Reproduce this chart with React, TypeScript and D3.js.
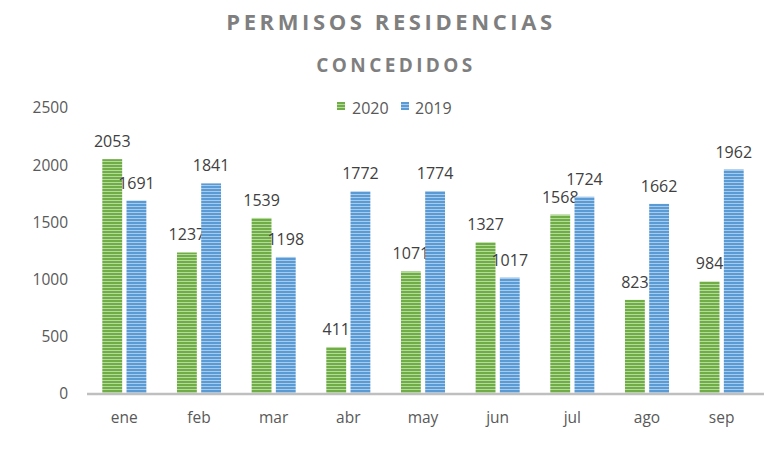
import * as d3 from "d3";

const months = ["ene", "feb", "mar", "abr", "may", "jun", "jul", "ago", "sep"];
const values2020 = [2053, 1237, 1539, 411, 1071, 1327, 1568, 823, 984];
const values2019 = [1691, 1841, 1198, 1772, 1774, 1017, 1724, 1662, 1962];
const yTicks = [0, 500, 1000, 1500, 2000, 2500];

const series = [
  { key: "2020", values: values2020, dark: "#70ad47", light: "#b5db9c", id: "stripeGreen" },
  { key: "2019", values: values2019, dark: "#5b9bd5", light: "#a9cbeb", id: "stripeBlue" },
];

const W = 781;
const H = 449;
const margin = { top: 108, right: 22, bottom: 55, left: 87 };
const font = "'Open Sans', 'Liberation Sans', sans-serif";

export default function App() {
  const innerW = W - margin.left - margin.right;
  const innerH = H - margin.top - margin.bottom;

  const x = d3.scaleBand<string>().domain(months).range([0, innerW]).paddingInner(0.41).paddingOuter(0.205);
  const xs = d3.scaleBand<string>().domain(series.map((s) => s.key)).range([0, x.bandwidth()]).paddingInner(0.18);
  const y = d3.scaleLinear().domain([0, 2500]).range([innerH, 0]);

  return (
    <div style={{ position: "absolute", left: 0, top: 0 }}>
      <svg width={W} height={H} style={{ display: "block", background: "#fff" }} fontFamily={font}>
        <defs>
          {series.map((s) => (
            <pattern key={s.id} id={s.id} width={4} height={3} patternUnits="userSpaceOnUse">
              <rect width={4} height={3} fill={s.light} />
              <rect width={4} height={2} fill={s.dark} />
            </pattern>
          ))}
        </defs>

        <text x={391} y={30} textAnchor="middle" fill="#7f7f7f" fontSize={22} fontWeight="bold" letterSpacing={3.6}>
          PERMISOS RESIDENCIAS
        </text>
        <text x={396} y={72} textAnchor="middle" fill="#7f7f7f" fontSize={19} fontWeight="bold" letterSpacing={3.4}>
          CONCEDIDOS
        </text>

        {/* legend */}
        <g fontSize={16} fill="#595959">
          <rect x={337} y={102} width={8} height={8} fill="url(#stripeGreen)" />
          <text x={352} y={114}>2020</text>
          <rect x={401} y={102} width={8} height={8} fill="url(#stripeBlue)" />
          <text x={415} y={114}>2019</text>
        </g>

        <g transform={`translate(${margin.left},${margin.top})`}>
          {yTicks.map((t) => (
            <text key={t} x={-19} y={y(t)} dy="0.35em" textAnchor="end" fontSize={15.5} fill="#595959">
              {t}
            </text>
          ))}

          {months.map((m, i) => (
            <g key={m} transform={`translate(${x(m)},0)`}>
              {series.map((s) => {
                const v = s.values[i];
                const bx = xs(s.key)!;
                return (
                  <g key={s.key}>
                    <rect x={bx} y={y(v)} width={xs.bandwidth()} height={innerH - y(v)} fill={`url(#${s.id})`} />
                    <text x={bx + xs.bandwidth() / 2} y={y(v) - 12} textAnchor="middle" fontSize={16} fill="#404040">
                      {v}
                    </text>
                  </g>
                );
              })}
              <text x={x.bandwidth() / 2} y={innerH + 29} textAnchor="middle" fontSize={15.5} fill="#595959">
                {m}
              </text>
            </g>
          ))}

          <line x1={0} x2={innerW + 5} y1={innerH} y2={innerH} stroke="#bfbfbf" strokeWidth={2.5} />
        </g>
      </svg>
    </div>
  );
}
